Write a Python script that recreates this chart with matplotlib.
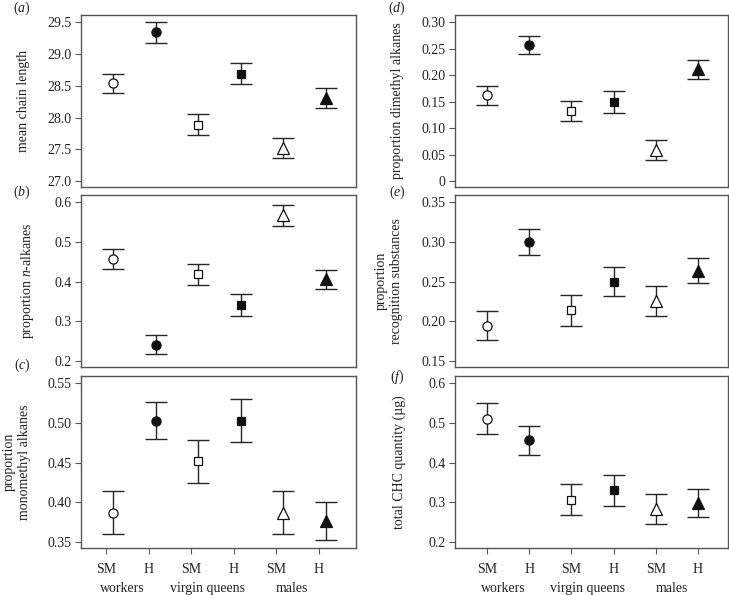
import numpy as np
import matplotlib.pyplot as plt
from matplotlib.transforms import blended_transform_factory

plt.rcParams['font.family'] = ['Liberation Serif', 'DejaVu Serif']
plt.rcParams['mathtext.fontset'] = 'custom'
plt.rcParams['mathtext.rm'] = 'Liberation Serif'
plt.rcParams['mathtext.it'] = 'Liberation Serif:italic'

# categorías
groups = ['workers', 'virgin queens', 'males']
tick_labels = ['SM', 'H', 'SM', 'H', 'SM', 'H']
markers = ['o', 'o', 's', 's', '^', '^']
filled = [False, True, False, True, False, True]

# medias y errores de cada panel
chain_mean = [28.54, 29.34, 27.89, 28.69, 27.52, 28.31]
chain_err = [0.15, 0.16, 0.16, 0.17, 0.16, 0.16]
nalk_mean = [0.456, 0.241, 0.418, 0.341, 0.567, 0.406]
nalk_err = [0.025, 0.024, 0.027, 0.028, 0.027, 0.024]
mono_mean = [0.387, 0.503, 0.452, 0.503, 0.387, 0.377]
mono_err = [0.027, 0.023, 0.027, 0.027, 0.027, 0.024]
dime_mean = [0.162, 0.257, 0.132, 0.149, 0.059, 0.211]
dime_err = [0.018, 0.017, 0.019, 0.021, 0.019, 0.018]
recog_mean = [0.1945, 0.2995, 0.214, 0.250, 0.2255, 0.264]
recog_err = [0.0185, 0.0165, 0.0195, 0.018, 0.019, 0.016]
total_mean = [0.511, 0.456, 0.307, 0.330, 0.283, 0.298]
total_err = [0.040, 0.037, 0.040, 0.040, 0.037, 0.035]

# ticks del eje y
chain_ticks = [27.0, 27.5, 28.0, 28.5, 29.0, 29.5]
nalk_ticks = [0.2, 0.3, 0.4, 0.5, 0.6]
mono_ticks = [0.35, 0.40, 0.45, 0.50, 0.55]
dime_ticks = [0, 0.05, 0.10, 0.15, 0.20, 0.25, 0.30]
recog_ticks = [0.15, 0.20, 0.25, 0.30, 0.35]
total_ticks = [0.2, 0.3, 0.4, 0.5, 0.6]

W, H = 729, 595
fig = plt.figure(figsize=(W / 100, H / 100), dpi=100)

def px_axes(x0, x1, y0, y1):
    return fig.add_axes([x0 / W, 1 - y1 / H, (x1 - x0) / W, (y1 - y0) / H])

rows = [(15, 187), (195, 367), (376, 548)]
cols = [(81, 356), (455, 728)]

panels = [
    # columna, fila, medias, errores, ticks, formato, ylabel, x del ylabel, letra, y de la letra
    (0, 0, chain_mean, chain_err, chain_ticks, '{:.1f}', 'mean chain length', -0.185, 'a', 8),
    (0, 1, nalk_mean, nalk_err, nalk_ticks, '{:.1f}', 'proportion $\\it{n}$-alkanes', -0.165, 'b', 192),
    (0, 2, mono_mean, mono_err, mono_ticks, '{:.2f}', 'proportion\nmonomethyl alkanes', -0.18, 'c', 365),
    (1, 0, dime_mean, dime_err, dime_ticks, '{:.2f}', 'proportion dimethyl alkanes', -0.185, 'd', 8),
    (1, 1, recog_mean, recog_err, recog_ticks, '{:.2f}', 'proportion\nrecognition substances', -0.19, 'e', 192),
    (1, 2, total_mean, total_err, total_ticks, '{:.1f}', 'total CHC quantity (µg)', -0.18, 'f', 377),
]

x = np.arange(1, 7)
txt = '#222222'
spine_c = '#555555'
fs = 10

for col, row, means, errs, yt, fmt, ylab, labx, letter, ly in panels:
    ax = px_axes(cols[col][0], cols[col][1], rows[row][0], rows[row][1])
    for i in range(6):
        ax.errorbar(x[i], means[i], yerr=errs[i], fmt='none', ecolor='#262626',
                    elinewidth=1.0, capsize=8, capthick=1.0, zorder=2)
        ms = 8 if markers[i] == '^' else (6.6 if markers[i] == 'o' else 6)
        ax.plot(x[i], means[i], marker=markers[i], ms=ms, mec='#111111', mew=0.9,
                mfc='#111111' if filled[i] else 'white', ls='none', zorder=3)
    lo, hi = yt[0], yt[-1]
    ax.set_ylim(lo - 0.037 * (hi - lo), hi + 0.045 * (hi - lo))
    ax.set_xlim(0.24, 6.71)
    ax.set_yticks(yt)
    ax.set_yticklabels(['0' if v == 0 else fmt.format(v) for v in yt])
    ax.tick_params(axis='y', direction='out', length=4, width=0.8, color=spine_c,
                   labelsize=fs, labelcolor=txt, pad=3)
    for s in ax.spines.values():
        s.set_color(spine_c)
        s.set_linewidth(1.0)
    if row == 2:
        off = -0.17 if col == 0 else 0.0
        ax.set_xticks(x + off)
        ax.set_xticklabels(tick_labels)
        ax.tick_params(axis='x', direction='out', length=4, width=0.8, color=spine_c,
                       labelsize=fs, labelcolor=txt, pad=7)
        tr = blended_transform_factory(ax.transData, ax.transAxes)
        for g in range(3):
            cx = (x[2 * g] + x[2 * g + 1]) / 2 + off - 0.12
            ax.text(cx, -0.235, groups[g], transform=tr, ha='center', va='center',
                    fontsize=fs, color=txt)
    else:
        ax.set_xticks([])
    ax.set_ylabel(ylab, fontsize=fs, color=txt, linespacing=1.25)
    ax.yaxis.set_label_coords(labx, 0.5)
    lx = 22 if col == 0 else 397
    fig.text(lx / W, 1 - ly / H, '($\\it{' + letter + '}$)', ha='center', va='center',
             fontsize=fs, color=txt)

plt.savefig('out.png', dpi=100)
